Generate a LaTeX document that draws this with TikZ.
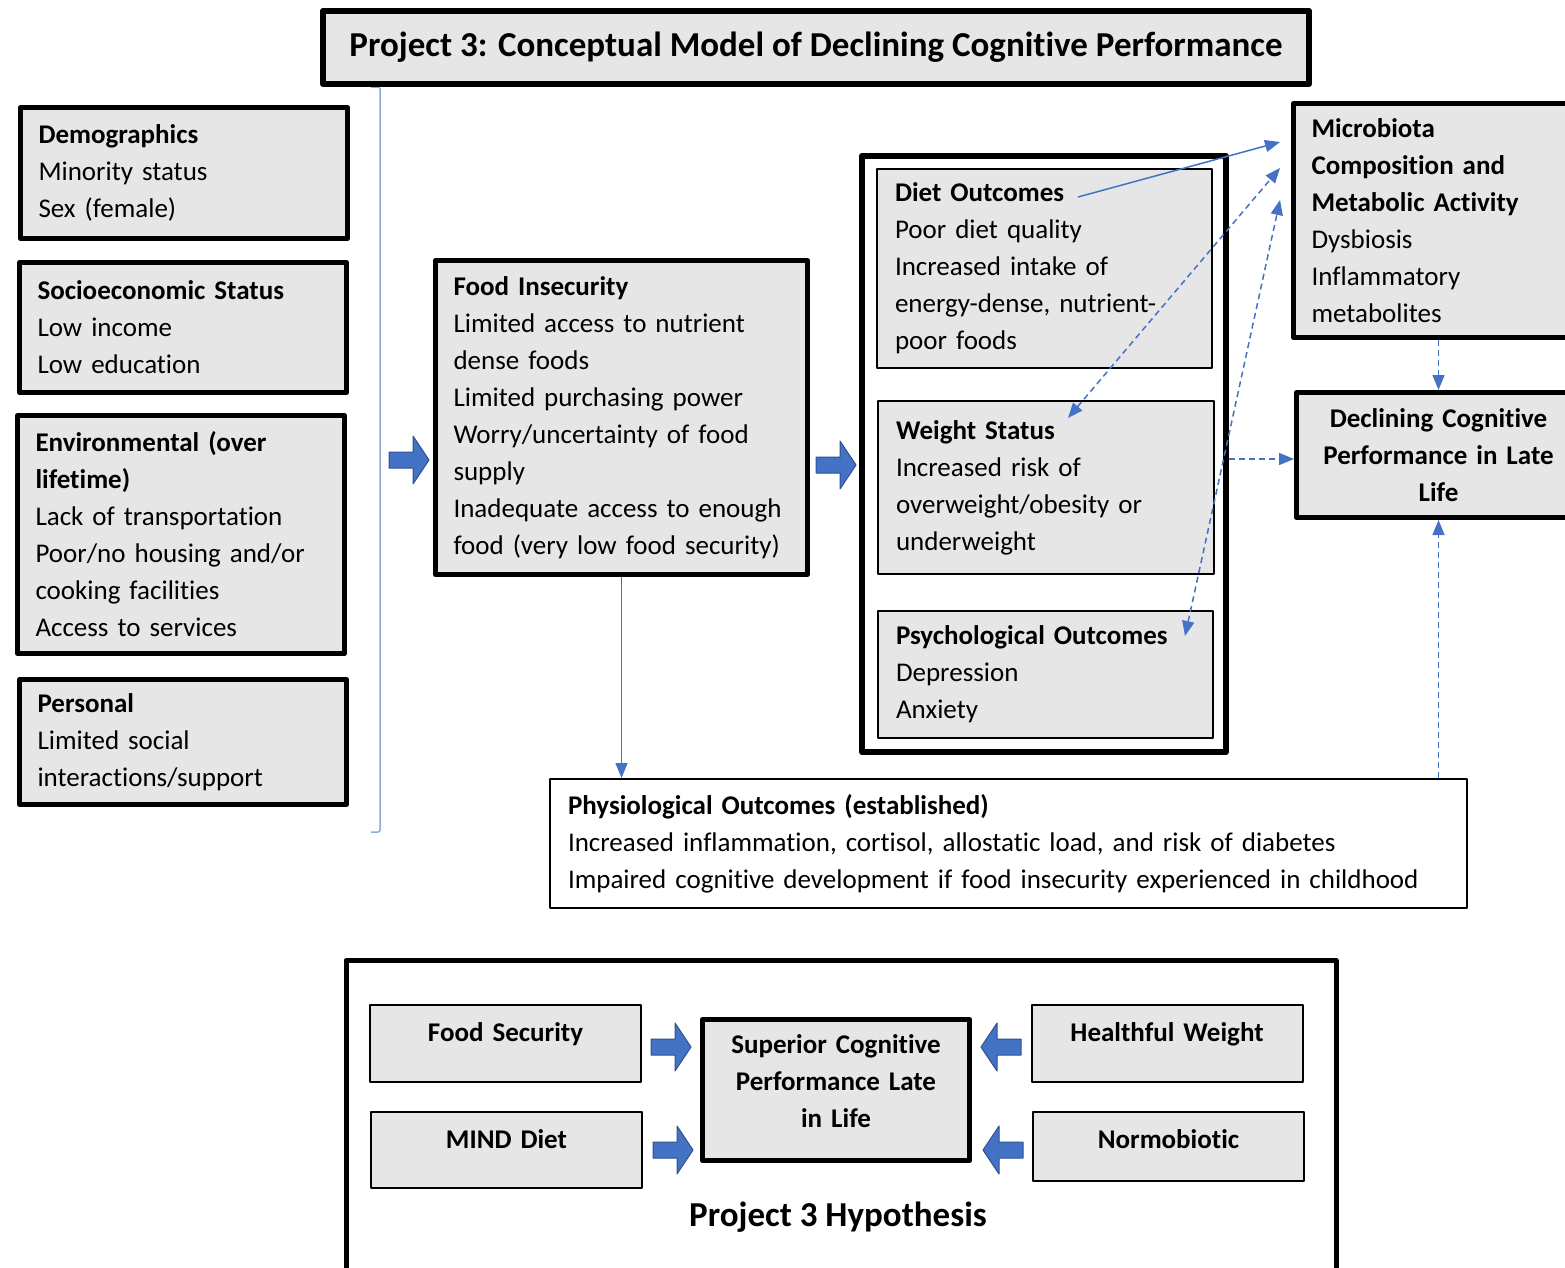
\documentclass[tikz,border=0pt]{standalone}
\usepackage{fontspec}
\setmainfont{Carlito}[Ligatures=CommonOff]
\usetikzlibrary{arrows.meta}
\definecolor{boxgray}{HTML}{E6E6E6}
\definecolor{lnblue}{HTML}{4472C4}
\definecolor{brblue}{HTML}{8FAADC}
\definecolor{arrdark}{HTML}{2F528F}
\tikzset{fatarr/.pic={\draw[fill=lnblue, draw=arrdark, line width=1pt] (-20,-8)--(4,-8)--(4,-24)--(20,0)--(4,24)--(4,8)--(-20,8)--cycle;}}
\begin{document}
\begin{tikzpicture}[x=1pt, y=-1pt, line join=round, >={Triangle[length=15pt,width=12pt]},
  every node/.style={font=\fontsize{27}{37}\selectfont, inner ysep=0pt, inner xsep=18pt},
  heavy/.style={draw, line width=5pt, fill=boxgray},
  light/.style={draw, line width=2pt, fill=boxgray},
  leftbox/.style={heavy, align=left, text width=291pt, minimum width=327pt},
  boldtxt/.style={font=\bfseries\fontsize{27}{37}\selectfont},
  smallbox/.style={light, boldtxt, align=center, text width=235pt, text height=36pt, text depth=#1},
  bigbold/.style={font=\bfseries\fontsize{35}{40}\selectfont},
  link/.style={lnblue, line width=1.5pt},
  dlink/.style={link, dash pattern=on 6pt off 4pt}]
\useasboundingbox (0,0) rectangle (1565,1267);
\draw[brblue, line width=1.5pt, rounded corners=2pt] (371,87)--(380,87)--(380,832)--(371,832);
\node[heavy, line width=6pt, minimum width=986pt, minimum height=73pt, bigbold] (title) at (816,47.5) {Project 3: Conceptual Model of Declining Cognitive Performance};
\node[leftbox, minimum height=131pt] (demo) at (184,173) {\textbf{Demographics}\\Minority status\\Sex (female)};
\node[leftbox, minimum height=130pt] (ses) at (183,327.5) {\textbf{Socioeconomic Status}\\Low income\\Low education};
\node[leftbox, minimum height=238pt] (env) at (181,534.5) {\textbf{Environmental (over}\\\textbf{lifetime)}\\Lack of transportation\\Poor/no housing and/or\\cooking facilities\\Access to services};
\node[leftbox, minimum height=125pt] (pers) at (183,742) {\textbf{Personal}\\Limited social\\interactions/support};
\node[heavy, align=left, text width=336pt, minimum height=314pt] (fi) at (621.5,417.5) {\textbf{Food Insecurity}\\Limited access to nutrient\\dense foods\\Limited purchasing power\\Worry/uncertainty of food\\supply\\Inadequate access to enough\\food (very low food security)};
\node[draw, line width=6pt, fill=white, minimum width=364pt, minimum height=596pt] (outc) at (1044,454) {};
\node[light, align=left, text width=299pt, minimum height=199pt] (diet) at (1044.5,268.5) {\textbf{Diet Outcomes}\\Poor diet quality\\Increased intake of\\energy-dense, nutrient-\\poor foods};
\node[light, align=left, text width=300pt, minimum height=173pt] (weight) at (1046,487.5) {\textbf{Weight Status}\\Increased risk of\\overweight/obesity or\\underweight};
\node[light, align=left, text width=299pt, minimum height=127pt] (psych) at (1045.5,674.5) {\textbf{Psychological Outcomes}\\Depression\\Anxiety};
\node[heavy, align=left, text width=254pt, minimum height=234pt] (micro) at (1438.5,220.5) {\textbf{Microbiota}\\\textbf{Composition and}\\\textbf{Metabolic Activity}\\Dysbiosis\\Inflammatory\\metabolites};
\node[heavy, boldtxt, align=center, text width=248pt, minimum height=125pt] (decl) at (1438.5,455) {Declining Cognitive\\Performance in Late\\Life};
\node[draw, line width=2pt, fill=white, align=left, text width=881pt, minimum height=129pt] (phys) at (1008.5,843.5) {\textbf{Physiological Outcomes (established)}\\Increased inflammation, cortisol, allostatic load, and risk of diabetes\\Impaired cognitive development if food insecurity experienced in childhood};
\node[draw, line width=5pt, fill=white, minimum width=990pt, minimum height=319pt] (hyp) at (841,1120) {};
\node[smallbox=41pt] (fsec) at (505.5,1043.5) {Food Security};
\node[smallbox=40pt] (mind) at (506.5,1150) {MIND Diet};
\node[smallbox=41pt] (hweight) at (1167,1043.5) {Healthful Weight};
\node[smallbox=33pt] (normo) at (1168.5,1146.5) {Normobiotic};
\node[heavy, boldtxt, align=center, text width=231pt, text depth=92pt, minimum height=141pt] (sup) at (836,1090) {Superior Cognitive\\Performance Late\\in Life};
\node[bigbold] (hyplabel) at (838,1217) {Project 3 Hypothesis};
\foreach \px/\py/\rot in {409/460/0, 836/465/0, 671/1047/0, 673/1150/0, 1001/1047/180, 1003/1150/180}
  \pic[rotate=\rot] at (\px,\py) {fatarr};
\coordinate (dietend) at (1078,197);
\coordinate (weightend) at (1068,418);
\coordinate (psychend) at (1185,636);
\coordinate (mtop) at (1280,142);
\coordinate (mmid) at (1280,168);
\coordinate (mlow) at (1280,200);
\draw[link, ->] (fi.south) -- (fi.south |- phys.north);
\draw[link, ->] (dietend) -- (mtop);
\draw[dlink, <->] (weightend) -- (mmid);
\draw[dlink, <->] (psychend) -- (mlow);
\draw[dlink, ->] (micro.south) -- (decl.north);
\draw[dlink, ->] (outc.east |- 0,459) -- (decl.west |- 0,459);
\draw[dlink, ->] (decl.south |- phys.north) -- (decl.south);
\end{tikzpicture}
\end{document}
